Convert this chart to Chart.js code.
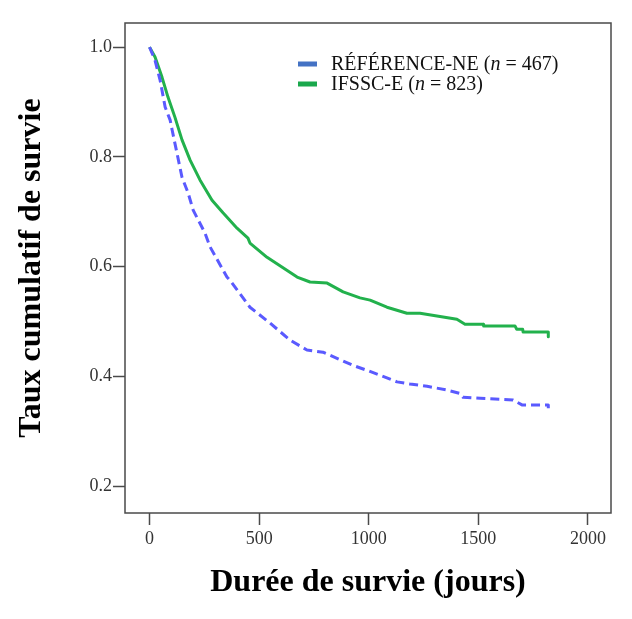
<!DOCTYPE html>
<html>
<head>
<meta charset="utf-8">
<script src="https://cdn.jsdelivr.net/npm/chart.js@4.4.1/dist/chart.umd.min.js"></script>
<style>
  html, body { margin: 0; padding: 0; background: #fff; }
  #wrap { width: 632px; height: 619px; }
</style>
</head>
<body>
<div id="wrap"><canvas id="myChart" width="632" height="619"></canvas></div>
<script>
// survival curves (days, cumulative survival)
const refDays = [0, 25, 48, 71, 94, 103, 125, 148, 176, 199, 253, 276, 353, 367, 458, 550, 641, 718, 791, 855, 928, 992, 1051, 1129, 1188, 1266, 1357, 1416, 1430, 1508, 1658, 1699, 1819, 1819];
const refSurv = [1.0, 0.976, 0.940, 0.891, 0.867, 0.849, 0.807, 0.763, 0.734, 0.703, 0.661, 0.636, 0.581, 0.575, 0.526, 0.497, 0.466, 0.448, 0.444, 0.433, 0.420, 0.411, 0.402, 0.390, 0.386, 0.382, 0.375, 0.369, 0.362, 0.360, 0.357, 0.348, 0.348, 0.342];

const ifsDays = [0, 25, 57, 84, 116, 148, 185, 230, 285, 335, 399, 449, 458, 536, 673, 732, 810, 883, 960, 1006, 1083, 1174, 1234, 1311, 1402, 1439, 1522, 1524, 1667, 1675, 1702, 1704, 1819, 1819];
const ifsSurv = [1.0, 0.982, 0.945, 0.909, 0.872, 0.831, 0.794, 0.758, 0.721, 0.698, 0.670, 0.652, 0.643, 0.617, 0.581, 0.572, 0.570, 0.554, 0.543, 0.539, 0.526, 0.515, 0.515, 0.510, 0.504, 0.495, 0.495, 0.492, 0.492, 0.486, 0.486, 0.481, 0.481, 0.472];

const groupNames = ['RÉFÉRENCE-NE', 'IFSSC-E'];
const groupN = [467, 823];
const xTicks = [0, 500, 1000, 1500, 2000];
const yTicks = [0.2, 0.4, 0.6, 0.8, 1.0];

function toPoints(xs, ys) {
  return xs.map((x, i) => ({x: x, y: ys[i]}));
}

const serif = "'Liberation Serif', 'Times New Roman', serif";

// box round the plot + legend with italic n
const boxAndLegend = {
  id: 'boxAndLegend',
  afterDraw(chart) {
    const {ctx, chartArea: a} = chart;
    ctx.save();
    ctx.strokeStyle = '#4a4a4a';
    ctx.lineWidth = 1.5;
    ctx.strokeRect(a.left, a.top, a.right - a.left, a.bottom - a.top);

    const swatch = ['#4472c4', '#1aa84c'];
    const rowY = [64, 84];
    ctx.textBaseline = 'middle';
    for (let i = 0; i < groupNames.length; i++) {
      ctx.fillStyle = swatch[i];
      ctx.fillRect(298, rowY[i] - 2.5, 19, 5);
      let x = 331;
      ctx.fillStyle = '#111';
      ctx.font = '20px ' + serif;
      let s = groupNames[i] + ' (';
      ctx.fillText(s, x, rowY[i] + 1);
      x += ctx.measureText(s).width;
      ctx.font = 'italic 20px ' + serif;
      ctx.fillText('n', x, rowY[i] + 1);
      x += ctx.measureText('n').width;
      ctx.font = '20px ' + serif;
      ctx.fillText(' = ' + groupN[i] + ')', x, rowY[i] + 1);
    }
    ctx.restore();
  }
};

const ctx = document.getElementById('myChart');
const myChart = new Chart(ctx, {
  type: 'line',
  data: {
    datasets: [{
      label: groupNames[0],
      data: toPoints(refDays, refSurv),
      borderColor: '#5a5aff',
      borderWidth: 3,
      borderDash: [9, 5],
      borderJoinStyle: 'round',
      pointRadius: 0,
      tension: 0
    }, {
      label: groupNames[1],
      data: toPoints(ifsDays, ifsSurv),
      borderColor: '#22b14c',
      borderWidth: 3,
      borderJoinStyle: 'round',
      pointRadius: 0,
      tension: 0
    }]
  },
  options: {
    responsive: false,
    animation: false,
    layout: { padding: { top: 23, right: 21, left: 0, bottom: 0 } },
    plugins: {
      legend: { display: false },
      tooltip: { enabled: false }
    },
    scales: {
      x: {
        type: 'linear',
        min: -112,
        max: 2105,
        afterBuildTicks: s => { s.ticks = xTicks.map(v => ({value: v})); },
        afterFit: s => { s.height = 106; },
        grid: { drawOnChartArea: false, tickLength: 12, tickColor: '#4a4a4a', tickWidth: 1.5 },
        border: { display: false },
        ticks: { color: '#333', padding: 3, font: { family: serif, size: 18 }, callback: v => String(v) },
        title: {
          display: true,
          text: 'Durée de survie (jours)',
          color: '#000',
          font: { family: serif, size: 32, weight: 'bold' },
          padding: { top: 0, bottom: 17 }
        }
      },
      y: {
        min: 0.151,
        max: 1.044,
        afterBuildTicks: s => { s.ticks = yTicks.map(v => ({value: v})); },
        afterFit: s => { s.width = 125; },
        grid: { drawOnChartArea: false, tickLength: 12, tickColor: '#4a4a4a', tickWidth: 1.5 },
        border: { display: false },
        ticks: { color: '#333', padding: 1, font: { family: serif, size: 18 }, callback: v => v.toFixed(1) },
        title: {
          display: true,
          text: 'Taux cumulatif de survie',
          color: '#000',
          font: { family: serif, size: 32, weight: 'bold' },
          padding: { top: 13, bottom: 0 }
        }
      }
    }
  },
  plugins: [boxAndLegend]
});
</script>
</body>
</html>
